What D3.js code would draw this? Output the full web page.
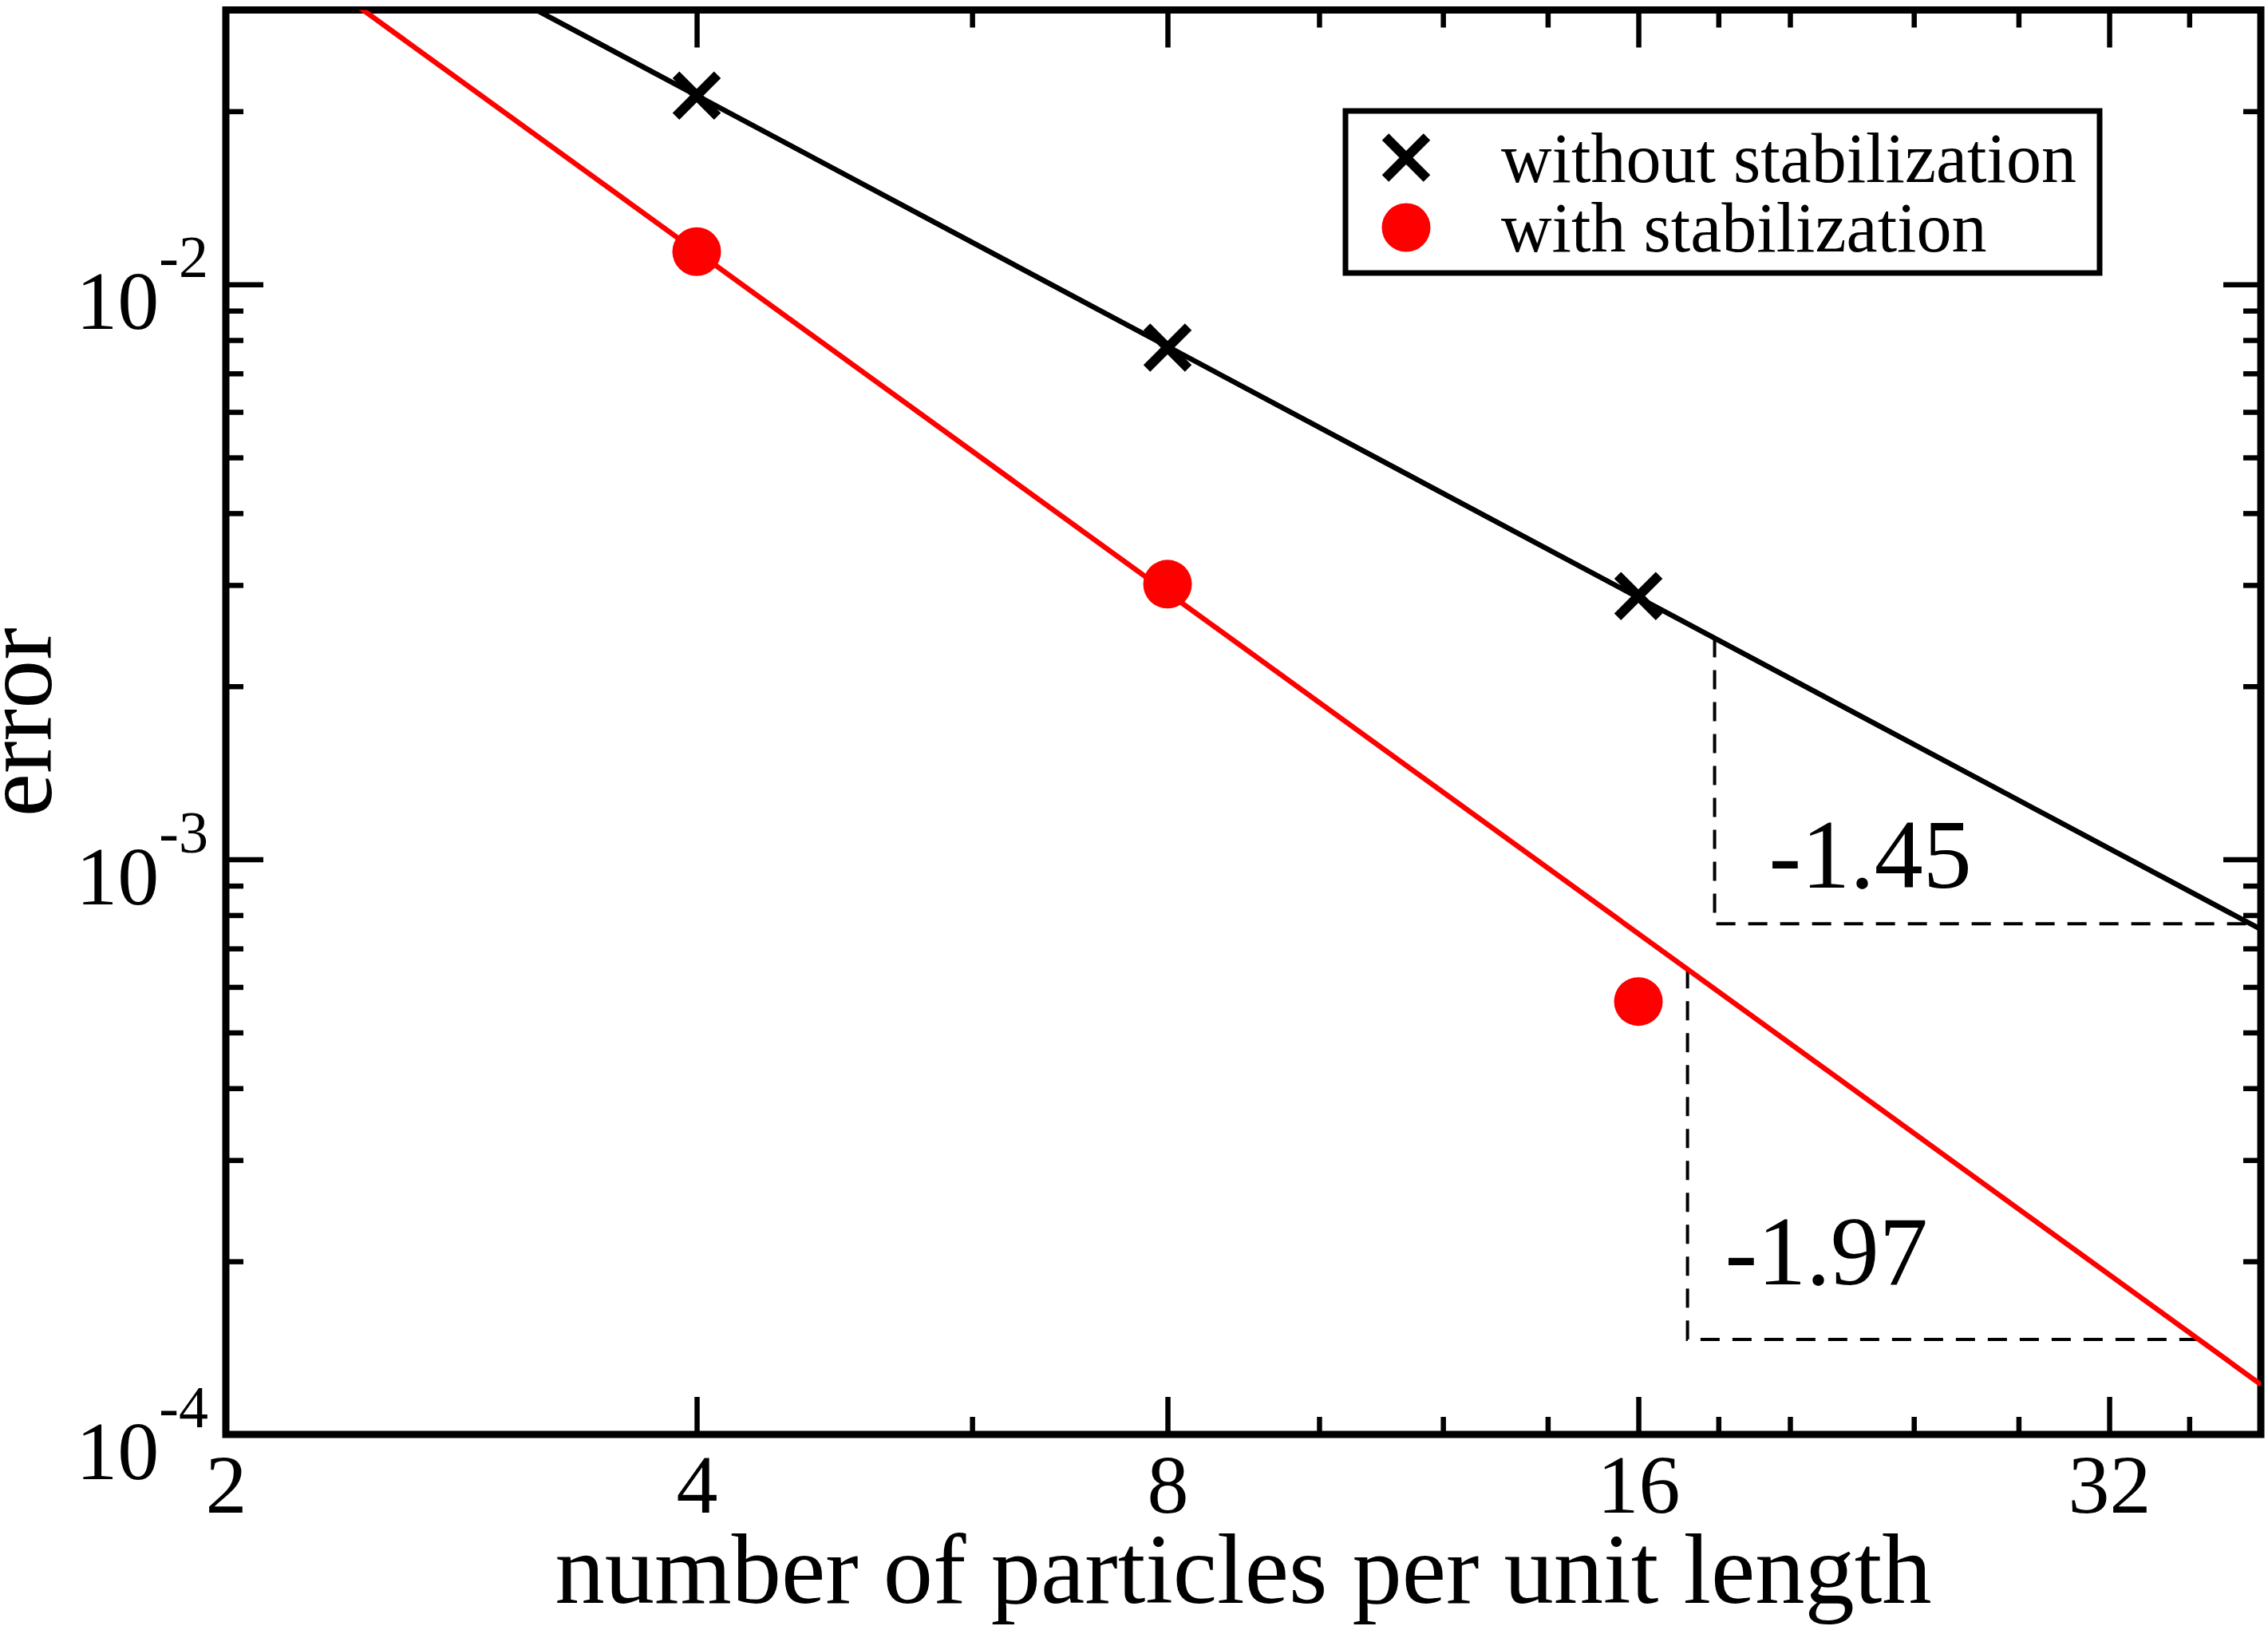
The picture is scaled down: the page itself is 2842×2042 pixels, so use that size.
<!DOCTYPE html>
<html>
<head>
<meta charset="utf-8">
<script src="https://cdn.jsdelivr.net/npm/d3@7"></script>
<style>
  html, body { margin: 0; padding: 0; background: #fff; }
  svg { display: block; }
  svg text { font-family: 'Liberation Serif', 'Times New Roman', serif; fill: #000; }
</style>
</head>
<body>
<div id="chart"></div>
<script>
// values
const nParticles = [4, 8, 16];
const errorWithout = [0.0213, 0.00776, 0.00287];
const errorWith = [0.0114, 0.00301, 0.000566];
const seriesNames = ['without stabilization', 'with stabilization'];

// fitted power laws: error = fitAt4 * (n / 4) ^ order
const fitOrders = [-1.45, -1.97];
const fitAt4 = [0.0213, 0.0114];
const triangleSpans = [[17.9, 39.4], [17.2, 36.5]];
const slopeLabels = ['-1.45', '-1.97'];

const xTickValues = [2, 4, 8, 16, 32];
const xMinorTicks = [6, 10, 12, 14, 18, 20, 24, 28, 36];
const yTickExponents = [-4, -3, -2];

const width = 2842;
const height = 2042;
const margin = { top: 12.5, right: 9, bottom: 245, left: 283 };
const colors = ['#000000', '#ff0000'];

const svg = d3.select('#chart')
  .append('svg')
  .attr('width', width)
  .attr('height', height)
  .attr('viewBox', `0 0 ${width} ${height}`);

const x = d3.scaleLog().base(2)
  .domain([2, 40])
  .range([margin.left, width - margin.right]);

const y = d3.scaleLog()
  .domain([1e-4, 0.03])
  .range([height - margin.bottom, margin.top]);

const fit = (i, n) => fitAt4[i] * Math.pow(n / 4, fitOrders[i]);

svg.append('defs').append('clipPath').attr('id', 'plot-clip')
  .append('rect')
  .attr('x', x.range()[0])
  .attr('y', y.range()[1])
  .attr('width', x.range()[1] - x.range()[0])
  .attr('height', y.range()[0] - y.range()[1]);

// minor y ticks 2..9 per decade
const yMinorTicks = [];
for (let e = -4; e <= -2; e += 1) {
  for (let m = 2; m <= 9; m += 1) {
    const v = m * Math.pow(10, e);
    if (v < 0.03) yMinorTicks.push(v);
  }
}

const axes = svg.append('g').attr('class', 'axes');
const majorLen = 47;
const minorLen = 22;

function styleAxis(g) {
  g.select('.domain').remove();
  g.attr('font-family', null);
  g.selectAll('.tick line').attr('stroke', '#000').attr('stroke-width', 6.5);
}

function bareAxis(axisFn, scale, values, size) {
  return axisFn(scale).tickValues(values).tickSize(-size).tickFormat('');
}

// bottom axis with labels
axes.append('g')
  .attr('transform', `translate(0,${y.range()[0]})`)
  .call(d3.axisBottom(x).tickValues(xTickValues).tickSize(-majorLen).tickPadding(24).tickFormat(d3.format('d')))
  .call(styleAxis)
  .call((g) => g.selectAll('text').attr('font-size', 104));

axes.append('g')
  .attr('transform', `translate(0,${y.range()[0]})`)
  .call(bareAxis(d3.axisBottom, x, xMinorTicks, minorLen))
  .call(styleAxis);

axes.append('g')
  .attr('transform', `translate(0,${y.range()[1]})`)
  .call(bareAxis(d3.axisTop, x, xTickValues, majorLen))
  .call(styleAxis);

axes.append('g')
  .attr('transform', `translate(0,${y.range()[1]})`)
  .call(bareAxis(d3.axisTop, x, xMinorTicks, minorLen))
  .call(styleAxis);

const yMajor = yTickExponents.map((e) => Math.pow(10, e));

[[d3.axisLeft, x.range()[0]], [d3.axisRight, x.range()[1]]].forEach(([make, pos]) => {
  axes.append('g')
    .attr('transform', `translate(${pos},0)`)
    .call(bareAxis(make, y, yMajor, majorLen))
    .call(styleAxis);
  axes.append('g')
    .attr('transform', `translate(${pos},0)`)
    .call(bareAxis(make, y, yMinorTicks, minorLen))
    .call(styleAxis);
});

// y tick labels 10^k
const yLabels = axes.append('g').selectAll('text')
  .data(yTickExponents)
  .join('text')
  .attr('x', x.range()[0] - 22)
  .attr('y', (e) => y(Math.pow(10, e)) + 56)
  .attr('text-anchor', 'end');

yLabels.append('tspan').attr('font-size', 104).text('10');
yLabels.append('tspan').attr('font-size', 74).attr('dy', -65).text((e) => `${e}`);

// frame
axes.append('rect')
  .attr('x', x.range()[0])
  .attr('y', y.range()[1])
  .attr('width', x.range()[1] - x.range()[0])
  .attr('height', y.range()[0] - y.range()[1])
  .attr('fill', 'none')
  .attr('stroke', '#000')
  .attr('stroke-width', 9);

// axis titles
svg.append('text')
  .attr('x', (x.range()[0] + x.range()[1]) / 2)
  .attr('y', 2008)
  .attr('text-anchor', 'middle')
  .attr('font-size', 124.5)
  .text('number of particles per unit length');

svg.append('text')
  .attr('transform', `translate(64,${(y.range()[0] + y.range()[1]) / 2}) rotate(-90)`)
  .attr('text-anchor', 'middle')
  .attr('font-size', 122)
  .text('error');

// plot content
const plot = svg.append('g').attr('clip-path', 'url(#plot-clip)');

const line = d3.line()
  .x((d) => x(d[0]))
  .y((d) => y(d[1]));

// slope triangles
triangleSpans.forEach(([n1, n2], i) => {
  plot.append('path')
    .attr('d', line([[n1, fit(i, n1)], [n1, fit(i, n2)], [n2, fit(i, n2)]]))
    .attr('fill', 'none')
    .attr('stroke', '#000')
    .attr('stroke-width', 4)
    .attr('stroke-dasharray', '24 16');
});

// fit lines
fitOrders.forEach((order, i) => {
  plot.append('path')
    .attr('d', line(x.domain().map((n) => [n, fit(i, n)])))
    .attr('fill', 'none')
    .attr('stroke', colors[i])
    .attr('stroke-width', 6.5);
});

// slope labels
const slopeLabelOffsets = [[68, -45], [47, -69]];
triangleSpans.forEach(([n1, n2], i) => {
  svg.append('text')
    .attr('x', x(n1) + slopeLabelOffsets[i][0])
    .attr('y', y(fit(i, n2)) + slopeLabelOffsets[i][1])
    .attr('font-size', 122)
    .text(slopeLabels[i]);
});

const crossPath = (s) => `M${-s},${-s}L${s},${s}M${-s},${s}L${s},${-s}`;

// markers
plot.append('g').selectAll('path')
  .data(nParticles.map((n, k) => [n, errorWithout[k]]))
  .join('path')
  .attr('transform', (d) => `translate(${x(d[0])},${y(d[1])})`)
  .attr('d', crossPath(26))
  .attr('stroke', colors[0])
  .attr('stroke-width', 12)
  .attr('fill', 'none');

plot.append('g').selectAll('circle')
  .data(nParticles.map((n, k) => [n, errorWith[k]]))
  .join('circle')
  .attr('cx', (d) => x(d[0]))
  .attr('cy', (d) => y(d[1]))
  .attr('r', 30.5)
  .attr('fill', colors[1]);

// legend
const legend = svg.append('g');
legend.append('rect')
  .attr('x', 1686).attr('y', 139)
  .attr('width', 945).attr('height', 203)
  .attr('fill', '#fff')
  .attr('stroke', '#000')
  .attr('stroke-width', 7);

const rows = legend.selectAll('g.row')
  .data(seriesNames)
  .join('g')
  .attr('class', 'row')
  .attr('transform', (d, i) => `translate(1762,${197.5 + i * 87.5})`);

rows.filter((d, i) => i === 0).append('path')
  .attr('d', crossPath(26))
  .attr('stroke', colors[0])
  .attr('stroke-width', 12)
  .attr('fill', 'none');

rows.filter((d, i) => i === 1).append('circle')
  .attr('r', 30.5)
  .attr('fill', colors[1]);

rows.append('text')
  .attr('x', 119)
  .attr('y', 30)
  .attr('font-size', 88)
  .text((d) => d);
</script>
</body>
</html>
